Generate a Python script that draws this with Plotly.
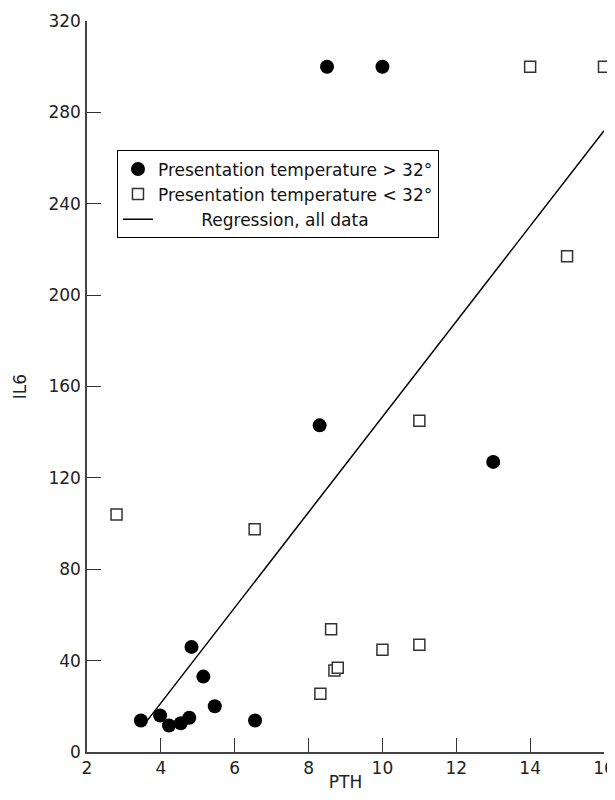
import plotly.graph_objects as go

# Presentation temperature > 32°
warm_pth = [3.46, 3.98, 4.22, 4.54, 4.77, 4.83, 5.15, 5.46, 6.55, 8.3, 8.5, 10.0, 13.0]
warm_il6 = [13.8, 16.0, 11.6, 12.6, 15.0, 46.0, 33.0, 20.0, 13.8, 143.0, 300.0, 300.0, 127.0]

# Presentation temperature < 32°
cold_pth = [2.8, 6.54, 8.32, 8.61, 8.70, 8.79, 10.0, 11.0, 11.0, 14.0, 15.0, 16.0]
cold_il6 = [104.0, 97.5, 25.5, 53.7, 35.7, 36.9, 44.8, 47.0, 145.0, 300.0, 217.0, 300.0]

# Regression, all data (end points of the drawn line)
reg_pth = [3.5, 16.0]
reg_il6 = [11.0, 272.0]

x_ticks = [2, 4, 6, 8, 10, 12, 14, 16]
y_ticks = [0, 40, 80, 120, 160, 200, 240, 280, 320]

FONT = "DejaVu Sans"
FS = 17

fig = go.Figure()
fig.add_trace(go.Scatter(
    x=warm_pth, y=warm_il6, mode="markers",
    name="Presentation temperature > 32°",
    marker=dict(symbol="circle", size=14, color="black", line=dict(width=0)),
    cliponaxis=False,
))
fig.add_trace(go.Scatter(
    x=cold_pth, y=cold_il6, mode="markers",
    name="Presentation temperature < 32°",
    marker=dict(symbol="square", size=11, color="white",
                line=dict(width=1.5, color="#333333")),
    cliponaxis=False,
))
fig.add_trace(go.Scatter(
    x=reg_pth, y=reg_il6, mode="lines",
    name="\u00a0" * 8 + "Regression, all data",
    line=dict(color="black", width=1.5),
))

axis_common = dict(
    showgrid=False, zeroline=False, showline=True, linecolor="#444444", linewidth=1.5,
    ticks="inside", ticklen=14, tickwidth=1.2, tickcolor="#333333",
    tickfont=dict(family=FONT, size=FS, color="#222222"),
    automargin=False,
)

fig.update_layout(
    width=607, height=784,
    margin=dict(l=79, r=11, t=13, b=40, autoexpand=False),
    paper_bgcolor="white", plot_bgcolor="white",
    font=dict(family=FONT, size=FS, color="#222222"),
    showlegend=True,
    legend=dict(
        x=0.058, y=0.823, xanchor="left", yanchor="top",
        bordercolor="black", borderwidth=1, bgcolor="white",
        font=dict(family=FONT, size=FS, color="#111111"),
        tracegroupgap=0,
    ),
    xaxis=dict(range=[2, 16], tickvals=x_ticks,
               title=dict(text="PTH", font=dict(family=FONT, size=FS), standoff=0),
               ticklabelstandoff=0, **axis_common),
    yaxis=dict(range=[0, 320], tickvals=y_ticks,
               title=dict(text="IL6", font=dict(family=FONT, size=FS), standoff=17),
               ticklabelstandoff=1, **axis_common),
)

fig.write_html("out.html")
